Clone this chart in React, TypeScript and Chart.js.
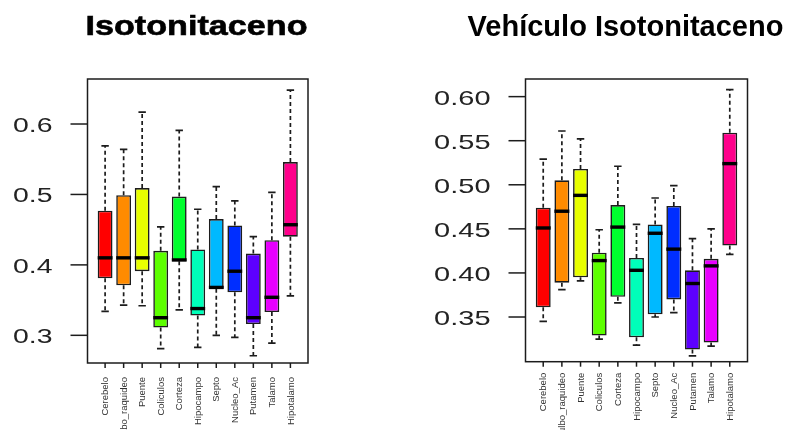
import React, { useEffect, useRef } from "react";
import { Chart, registerables } from "chart.js";

Chart.register(...registerables);

// Brain regions on the x axis
const regions = [
  "Cerebelo", "Bulbo_raquideo", "Puente", "Coliculos", "Corteza", "Hipocampo",
  "Septo", "Nucleo_Ac", "Putamen", "Talamo", "Hipotalamo",
];

// rainbow(11) box fills
const boxColors = [
  "#FF0000", "#FF8B00", "#E8FF00", "#5DFF00", "#00FF2E", "#00FFB9",
  "#00B9FF", "#002EFF", "#5D00FF", "#E800FF", "#FF008B",
];

// Isotonitaceno: five-number summaries per region
const isoLow = [0.334, 0.343, 0.342, 0.281, 0.336, 0.283, 0.300, 0.297, 0.271, 0.289, 0.356];
const isoQ1 = [0.381, 0.371, 0.391, 0.311, 0.405, 0.328, 0.366, 0.361, 0.316, 0.333, 0.440];
const isoMedian = [0.410, 0.410, 0.410, 0.325, 0.407, 0.338, 0.368, 0.391, 0.325, 0.354, 0.457];
const isoQ3 = [0.477, 0.499, 0.509, 0.420, 0.497, 0.422, 0.465, 0.456, 0.416, 0.435, 0.546];
const isoHigh = [0.569, 0.564, 0.617, 0.454, 0.591, 0.479, 0.511, 0.491, 0.440, 0.503, 0.648];
const isoTicks = [0.3, 0.4, 0.5, 0.6];
const isoTickLabels = ["0.3", "0.4", "0.5", "0.6"];

// Vehículo Isotonitaceno: five-number summaries per region
const vehLow = [0.345, 0.381, 0.391, 0.325, 0.366, 0.318, 0.350, 0.355, 0.306, 0.317, 0.421];
const vehQ1 = [0.361, 0.389, 0.395, 0.329, 0.373, 0.327, 0.353, 0.370, 0.313, 0.321, 0.431];
const vehMedian = [0.451, 0.470, 0.488, 0.414, 0.452, 0.403, 0.445, 0.427, 0.388, 0.408, 0.524];
const vehQ3 = [0.474, 0.505, 0.518, 0.423, 0.477, 0.417, 0.455, 0.476, 0.403, 0.416, 0.559];
const vehHigh = [0.529, 0.561, 0.552, 0.449, 0.521, 0.455, 0.485, 0.499, 0.439, 0.450, 0.608];
const vehTicks = [0.35, 0.4, 0.45, 0.5, 0.55, 0.6];
const vehTickLabels = ["0.35", "0.40", "0.45", "0.50", "0.55", "0.60"];

type Panel = {
  title: string;
  titleFont: string;
  titleX: number;
  titleBaseline: number;
  titleStretch: number;
  titleStroke: number;
  low: number[];
  q1: number[];
  median: number[];
  q3: number[];
  high: number[];
  ticks: number[];
  tickLabels: string[];
  yMin: number;
  yMax: number;
  padding: { left: number; right: number; top: number; bottom: number };
  labelFont: string;
  labelStretch: number;
  nameGap: number;
};

const INK = "#1c1c1c";

function boxplotPlugin(p: Panel) {
  return {
    id: "boxplotExtras",
    afterDatasetsDraw(chart: any) {
      const ctx: CanvasRenderingContext2D = chart.ctx;
      const xs = chart.scales.x;
      const ys = chart.scales.y;
      const area = chart.chartArea;
      const meta = chart.getDatasetMeta(0);
      ctx.save();

      // whiskers, staples and medians
      regions.forEach((_, i) => {
        const bar = meta.data[i];
        const cx = xs.getPixelForValue(i + 1);
        const half = bar.width / 2;
        const yLow = ys.getPixelForValue(p.low[i]);
        const yQ1 = ys.getPixelForValue(p.q1[i]);
        const yQ3 = ys.getPixelForValue(p.q3[i]);
        const yHigh = ys.getPixelForValue(p.high[i]);
        const yMed = ys.getPixelForValue(p.median[i]);

        ctx.strokeStyle = INK;
        ctx.lineWidth = 1.7;
        ctx.setLineDash([4, 3]);
        ctx.beginPath();
        ctx.moveTo(cx, yQ3);
        ctx.lineTo(cx, yHigh);
        ctx.moveTo(cx, yQ1);
        ctx.lineTo(cx, yLow);
        ctx.stroke();

        ctx.setLineDash([]);
        ctx.beginPath();
        ctx.moveTo(cx - half / 2, yHigh);
        ctx.lineTo(cx + half / 2, yHigh);
        ctx.moveTo(cx - half / 2, yLow);
        ctx.lineTo(cx + half / 2, yLow);
        ctx.stroke();

        ctx.strokeStyle = "#000";
        ctx.lineWidth = 3.4;
        ctx.beginPath();
        ctx.moveTo(cx - half, yMed);
        ctx.lineTo(cx + half, yMed);
        ctx.stroke();
      });

      // plot frame
      ctx.strokeStyle = INK;
      ctx.lineWidth = 1.5;
      ctx.strokeRect(area.left, area.top, area.right - area.left, area.bottom - area.top);

      // y axis ticks and labels
      ctx.fillStyle = "#222";
      ctx.font = p.labelFont;
      ctx.textAlign = "right";
      ctx.textBaseline = "middle";
      p.ticks.forEach((t, k) => {
        const y = ys.getPixelForValue(t);
        ctx.beginPath();
        ctx.moveTo(area.left - 17, y);
        ctx.lineTo(area.left, y);
        ctx.stroke();
        ctx.save();
        ctx.translate(area.left - 35, y + 2.5);
        ctx.scale(p.labelStretch, 1);
        ctx.fillText(p.tickLabels[k], 0, 0);
        ctx.restore();
      });

      // x axis ticks and rotated region names
      ctx.font = "9.5px 'Liberation Sans', Arial, sans-serif";
      ctx.fillStyle = "#333";
      regions.forEach((name, i) => {
        const x = xs.getPixelForValue(i + 1);
        ctx.beginPath();
        ctx.moveTo(x, area.bottom);
        ctx.lineTo(x, area.bottom + 5);
        ctx.stroke();
        ctx.save();
        ctx.translate(x + 0.5, area.bottom + p.nameGap);
        ctx.rotate(-Math.PI / 2);
        ctx.textAlign = "right";
        ctx.textBaseline = "middle";
        ctx.fillText(name, 0, 0);
        ctx.restore();
      });

      // panel title
      ctx.save();
      ctx.translate(p.titleX, p.titleBaseline);
      ctx.scale(p.titleStretch, 1);
      ctx.font = p.titleFont;
      ctx.textAlign = "center";
      ctx.textBaseline = "alphabetic";
      ctx.fillStyle = "#000";
      ctx.fillText(p.title, 0, 0);
      if (p.titleStroke > 0) {
        ctx.strokeStyle = "#000";
        ctx.lineWidth = p.titleStroke;
        ctx.strokeText(p.title, 0, 0);
      }
      ctx.restore();

      ctx.restore();
    },
  };
}

function BoxPanel({ panel, left, width }: { panel: Panel; left: number; width: number }) {
  const ref = useRef<HTMLCanvasElement | null>(null);
  useEffect(() => {
    if (!ref.current) return;
    const chart = new Chart(ref.current, {
      type: "bar",
      data: {
        datasets: [
          {
            data: regions.map((_, i) => ({ x: i + 1, y: [panel.q1[i], panel.q3[i]] })) as any,
            backgroundColor: boxColors,
            borderColor: INK,
            borderWidth: 1.6,
            borderSkipped: false,
            categoryPercentage: 0.8,
            barPercentage: 1,
          },
        ],
      },
      options: {
        animation: false,
        responsive: false,
        maintainAspectRatio: false,
        events: [],
        layout: { padding: panel.padding },
        scales: {
          x: { type: "linear", offset: false, min: 0.05, max: 11.95, display: false },
          y: { type: "linear", min: panel.yMin, max: panel.yMax, display: false },
        },
        plugins: {
          legend: { display: false },
          tooltip: { enabled: false },
          title: { display: false },
        },
      },
      plugins: [boxplotPlugin(panel)],
    });
    return () => chart.destroy();
  }, [panel]);
  return (
    <canvas
      ref={ref}
      width={width}
      height={430}
      style={{ position: "absolute", left, top: 0, width, height: 430 }}
    />
  );
}

const isoPanel: Panel = {
  title: "Isotonitaceno",
  titleFont: "bold 28px 'Liberation Sans', Arial, sans-serif",
  titleX: 196.5,
  titleBaseline: 35,
  titleStretch: 1.22,
  titleStroke: 0.6,
  low: isoLow,
  q1: isoQ1,
  median: isoMedian,
  q3: isoQ3,
  high: isoHigh,
  ticks: isoTicks,
  tickLabels: isoTickLabels,
  yMin: 0.2607,
  yMax: 0.6639,
  padding: { left: 87.5, right: 395 - 308, top: 79, bottom: 430 - 363 },
  labelFont: "20px 'Liberation Sans', Arial, sans-serif",
  labelStretch: 1.42,
  nameGap: 14,
};

const vehPanel: Panel = {
  title: "Vehículo Isotonitaceno",
  titleFont: "bold 29px 'Liberation Sans', Arial, sans-serif",
  titleX: 625.5 - 395,
  titleBaseline: 36,
  titleStretch: 1,
  titleStroke: 0,
  low: vehLow,
  q1: vehQ1,
  median: vehMedian,
  q3: vehQ3,
  high: vehHigh,
  ticks: vehTicks,
  tickLabels: vehTickLabels,
  yMin: 0.2993,
  yMax: 0.62,
  padding: { left: 525.5 - 395, right: 396 - (747.5 - 395), top: 79, bottom: 430 - 361.7 },
  labelFont: "21px 'Liberation Sans', Arial, sans-serif",
  labelStretch: 1.38,
  nameGap: 11,
};

export default function App() {
  return (
    <div style={{ position: "absolute", left: 0, top: 0, width: 791, height: 430, background: "#fff" }}>
      <BoxPanel panel={isoPanel} left={0} width={395} />
      <BoxPanel panel={vehPanel} left={395} width={396} />
    </div>
  );
}
